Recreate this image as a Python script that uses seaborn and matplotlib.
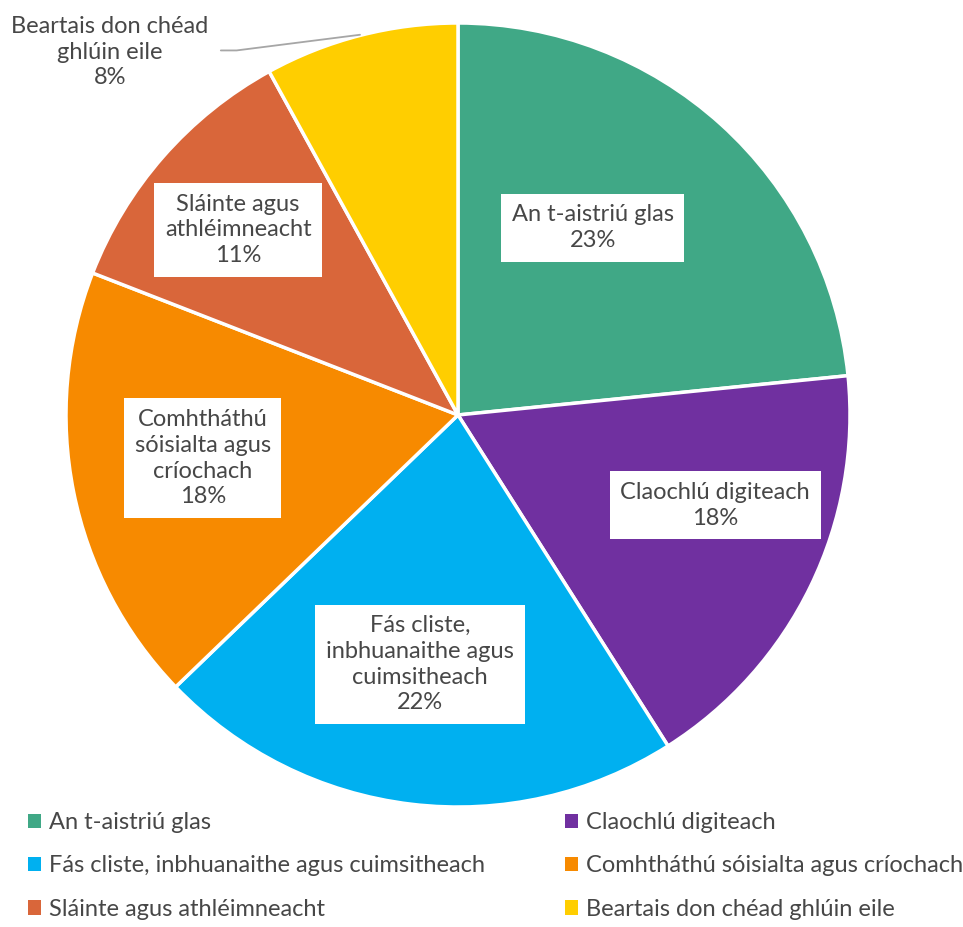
import matplotlib
matplotlib.use("Agg")
import matplotlib.pyplot as plt
import seaborn as sns
from matplotlib.patches import Patch

categories = ["An t-aistriú glas", "Claochlú digiteach",
              "Fás cliste, inbhuanaithe agus cuimsitheach",
              "Comhtháthú sóisialta agus críochach",
              "Sláinte agus athléimneacht",
              "Beartais don chéad ghlúin eile"]
box_labels = ["An t-aistriú glas", "Claochlú digiteach",
              "Fás cliste,\ninbhuanaithe agus\ncuimsitheach",
              "Comhtháthú\nsóisialta agus\ncríochach",
              "Sláinte agus\nathléimneacht",
              "Beartais don chéad\nghlúin eile"]
values = [23.4, 17.6, 21.8, 18.1, 11.1, 8.0]
colors = ["#40A886", "#7030A0", "#00B0F0", "#F78A00", "#D9663A", "#FFCE00"]

sns.set_theme(style="white")
plt.rcParams['font.family'] = ['Lato', 'DejaVu Sans']
text_color = "#474747"
fs = 17

fig = plt.figure(figsize=(9.63, 9.27), dpi=100)
ax = fig.add_axes([66/963, 120/927, 784/963, 784/927])
wedges, _ = ax.pie(values, colors=colors, startangle=90, counterclock=False,
                   wedgeprops=dict(edgecolor="white", linewidth=2.5), radius=1)
ax.set_xlim(-1, 1)
ax.set_ylim(-1, 1)

total = sum(values)
label_pos = [(0.344, 0.478), (0.656, -0.230), (-0.097, -0.636),
             (-0.651, -0.110), (-0.561, 0.472)]
for i, (x, y) in enumerate(label_pos):
    txt = f"{box_labels[i]}\n{values[i] / total * 100:.0f}%"
    ax.text(x, y, txt, ha="center", va="center", fontsize=fs, color=text_color,
            linespacing=1.28,
            bbox=dict(boxstyle="square,pad=0.45", facecolor="white", edgecolor="none"))

# outside label for the last slice
txt = f"{box_labels[5]}\n{values[5] / total * 100:.0f}%"
ax.text(-0.888, 0.926, txt, ha="center", va="center", fontsize=fs, color=text_color,
        linespacing=1.28)
ax.plot([-0.605, -0.565, -0.250], [0.930, 0.930, 0.970], color="#A6A6A6", lw=1.3,
        clip_on=False)

order = [0, 2, 4, 1, 3, 5]
handles = [Patch(facecolor=colors[i], edgecolor="none") for i in order]
labels = [categories[i] for i in order]
leg = fig.legend(handles, labels, ncol=2, loc="upper left",
                 bbox_to_anchor=(28/963, 0, 935/963, 1 - 812/927),
                 mode="expand", frameon=False, fontsize=fs,
                 handlelength=0.55, handleheight=0.55, handletextpad=0.35,
                 labelspacing=0.95, borderaxespad=0, borderpad=0)
for t in leg.get_texts():
    t.set_color(text_color)

fig.savefig("out.png", dpi=100)
